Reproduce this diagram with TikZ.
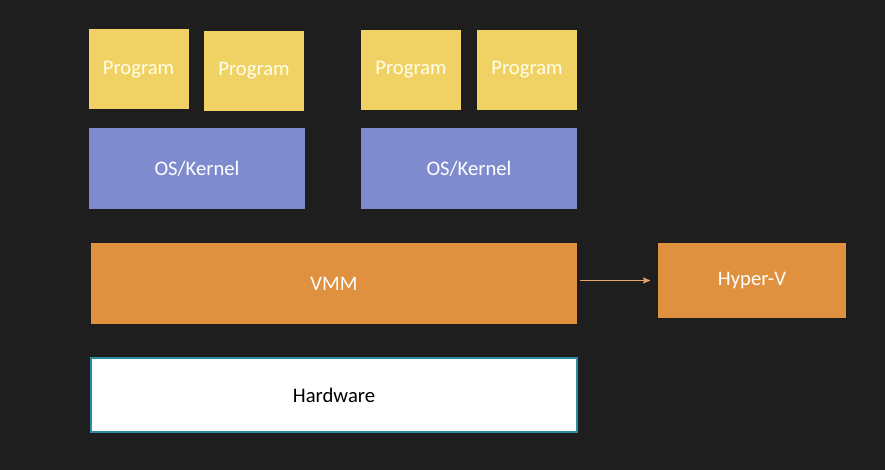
\documentclass[tikz,border=0pt]{standalone}
\usepackage{fontspec}
\setmainfont{Carlito}
\usetikzlibrary{arrows}

\definecolor{board}{HTML}{1E1E1E}
\definecolor{progfill}{HTML}{F0D264}
\definecolor{kernfill}{HTML}{7F8BCF}
\definecolor{vmmfill}{HTML}{E0913F}
\definecolor{hwline}{HTML}{2E8BA0}
\definecolor{arrline}{HTML}{E8A466}

\tikzset{
    block/.style={inner sep=0pt, outer sep=0pt, font=\fontsize{15.5}{18}\selectfont},
    prog/.style={block, fill=progfill, text=white!92!yellow, minimum width=75pt, minimum height=60pt},
    kernel/.style={block, fill=kernfill, text=white, minimum width=162pt, minimum height=60.75pt},
    vmm/.style={block, fill=vmmfill, text=white, minimum width=364.5pt, minimum height=60.75pt},
    hyper/.style={block, fill=vmmfill, text=white, minimum width=141pt, minimum height=56.25pt},
    hw/.style={block, fill=white, draw=hwline, line width=0.8pt, text=black, minimum width=364.5pt, minimum height=55.5pt},
    link/.style={->, >=stealth', draw=arrline, line width=0.9pt}
}

\begin{document}
\begin{tikzpicture}[x=0.75pt, y=-0.75pt]
    \fill [board] (0,0) rectangle (885,470);
    \useasboundingbox (0,0) rectangle (885,470);

    \node [prog] (prog1) at (138.5,69.5) {Program};
    \node [prog] (prog2) at (254,71) {Program};
    \node [prog] (prog3) at (411,70) {Program};
    \node [prog] (prog4) at (527,70) {Program};

    \node [kernel] (kernel1) at (197,168.5) {OS/Kernel};
    \node [kernel] (kernel2) at (469,168.5) {OS/Kernel};

    \node [vmm] (vmm) at (334,283.5) {VMM};
    \node [hyper] (hyperv) at (752,280.5) {Hyper-V};

    \node [hw] (hw) at (334,395) {Hardware};

    \draw [link, shorten <=2pt, shorten >=6pt] (vmm.east |- hyperv.west) -- (hyperv.west);

\end{tikzpicture}
\end{document}
